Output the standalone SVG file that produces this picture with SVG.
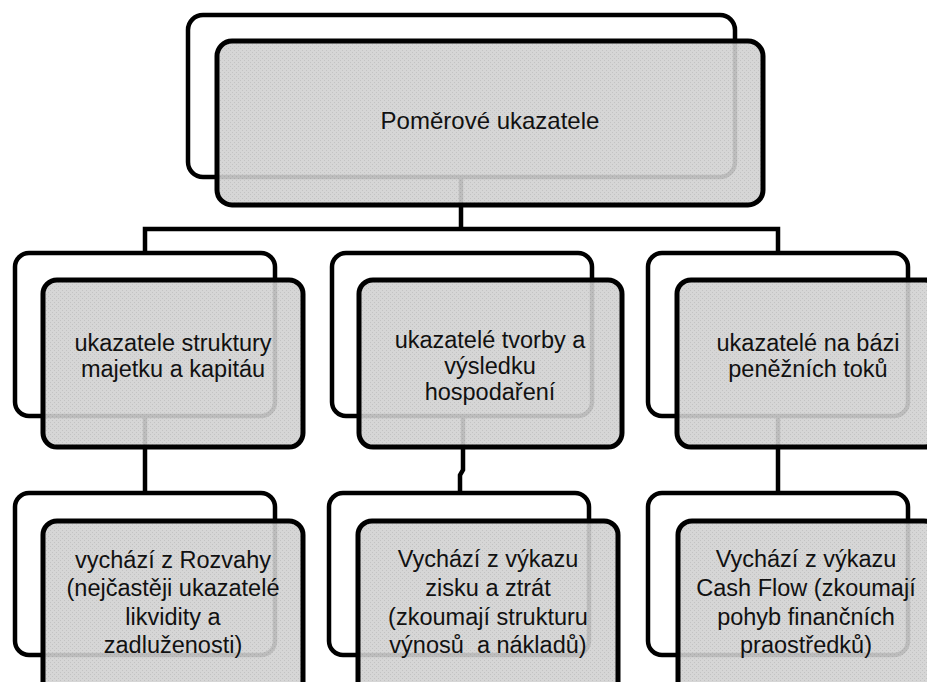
<svg xmlns="http://www.w3.org/2000/svg" width="927" height="682" viewBox="0 0 927 682">
<style>
.back{fill:#ffffff;stroke:#000;stroke-width:4.5}
.front{fill:url(#dots);fill-opacity:0.9;stroke:#000;stroke-width:5}
.conn{fill:none;stroke:#000;stroke-width:4.5}
.lbl{font-family:"Liberation Sans",Arial,sans-serif;font-size:23.5px;fill:#111;text-anchor:middle;white-space:pre}
.top{font-size:24px}
</style>
<defs>
<pattern id="dots" width="4" height="4" patternUnits="userSpaceOnUse">
<rect width="4" height="4" fill="#d2d2d2"/>
<rect x="0" y="0" width="1" height="1" fill="#bdbdbd"/>
<rect x="2" y="2" width="1" height="1" fill="#bdbdbd"/>
</pattern>
</defs>
<rect width="927" height="682" fill="#fff"/>

<g id="n0">
<rect class="back" x="188" y="15" width="547" height="162" rx="15"/>
</g>
<g id="n1">
<rect class="back" x="15" y="253" width="260" height="163" rx="14"/>
</g>
<g id="n2">
<rect class="back" x="332" y="253" width="260" height="163" rx="14"/>
</g>
<g id="n3">
<rect class="back" x="648" y="253" width="260" height="163" rx="14"/>
</g>
<g id="n4">
<rect class="back" x="15" y="493" width="260" height="162" rx="14"/>
</g>
<g id="n5">
<rect class="back" x="329" y="493" width="260" height="162" rx="14"/>
</g>
<g id="n6">
<rect class="back" x="648" y="493" width="260" height="162" rx="14"/>
</g>

<g id="connectors">
<path class="conn" d="M461,177 V229 M145,253 V229 H778 V253"/>
<path class="conn" d="M145,416 V493"/>
<path class="conn" d="M463,416 V470 L460,475 V493"/>
<path class="conn" d="M778,416 V493"/>
</g>

<g id="n0-front">
<rect class="front" x="217" y="41" width="546" height="164" rx="15"/>
<text class="lbl top" x="490" y="129">Poměrové ukazatele</text>
</g>
<g id="n1-front">
<rect class="front" x="43" y="280" width="260" height="167" rx="14"/>
<text class="lbl" x="173" y="351">ukazatele struktury</text>
<text class="lbl" x="173" y="377">majetku a kapitáu</text>
</g>
<g id="n2-front">
<rect class="front" x="359" y="280" width="263" height="167" rx="14"/>
<text class="lbl" x="490" y="348">ukazatelé tvorby a</text>
<text class="lbl" x="490" y="374">výsledku</text>
<text class="lbl" x="490" y="400">hospodaření</text>
</g>
<g id="n3-front">
<rect class="front" x="677" y="280" width="262" height="167" rx="14"/>
<text class="lbl" x="808" y="351">ukazatelé na bázi</text>
<text class="lbl" x="808" y="377">peněžních toků</text>
</g>
<g id="n4-front">
<rect class="front" x="43" y="521" width="260" height="175" rx="14"/>
<text class="lbl" x="173" y="568">vychází z Rozvahy</text>
<text class="lbl" x="173" y="596">(nejčastěji ukazatelé</text>
<text class="lbl" x="173" y="625">likvidity a</text>
<text class="lbl" x="173" y="653">zadluženosti)</text>
</g>
<g id="n5-front">
<rect class="front" x="358" y="521" width="260" height="175" rx="14"/>
<text class="lbl" x="488" y="567">Vychází z výkazu</text>
<text class="lbl" x="488" y="596">zisku a ztrát</text>
<text class="lbl" x="488" y="625">(zkoumají strukturu</text>
<text class="lbl" x="488" y="653">výnosů  a nákladů)</text>
</g>
<g id="n6-front">
<rect class="front" x="678" y="521" width="260" height="175" rx="14"/>
<text class="lbl" x="806" y="567">Vychází z výkazu</text>
<text class="lbl" x="806" y="596">Cash Flow (zkoumají</text>
<text class="lbl" x="806" y="625">pohyb finančních</text>
<text class="lbl" x="806" y="653">praostředků)</text>
</g>
</svg>
